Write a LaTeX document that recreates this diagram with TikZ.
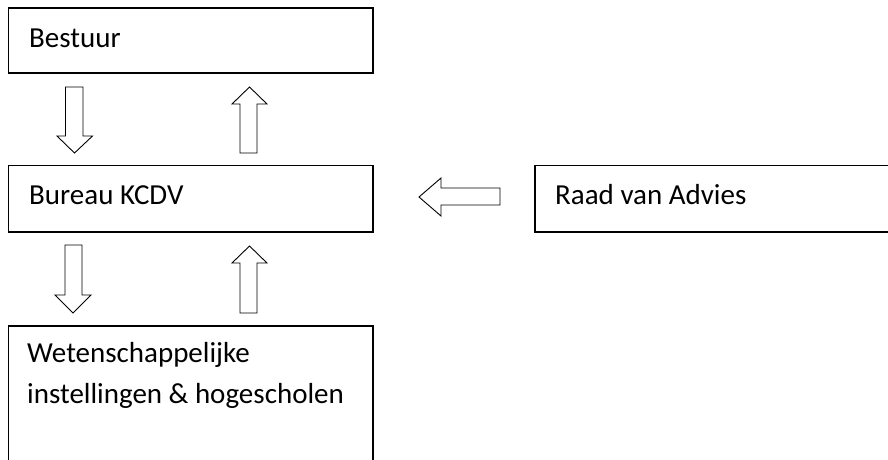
\documentclass[tikz,border=0pt]{standalone}
\usepackage{fontspec}
\setmainfont{Carlito}
\begin{document}
\begin{tikzpicture}[x=1pt,y=-1pt,
  box/.style={draw=black,line width=1.6pt,rectangle,inner sep=0pt,anchor=north west},
  lbl/.style={anchor=base west,inner sep=0pt,font=\fontsize{29}{41}\selectfont,align=left},
  blockarrow/.style={draw=black,line width=0.9pt,fill=white,line join=miter}]
\useasboundingbox (0,0) rectangle (888,459);
\clip (0,0) rectangle (888,459);
% boxes
\node[box,minimum width=364.5pt,minimum height=65pt] (bestuur) at (7.5,7) {};
\node[box,minimum width=364.5pt,minimum height=66.5pt] (bureau) at (7.5,164.5) {};
\node[box,minimum width=370pt,minimum height=66.5pt] (raad) at (534,164.5) {};
\node[box,minimum width=364.5pt,minimum height=160pt] (wet) at (7.5,325) {};
% labels
\node[lbl] (tb) at (29,47) {Bestuur};
\node[lbl] (tk) at (29,204) {Bureau KCDV};
\node[lbl] (tr) at (555,204) {Raad van Advies};
\node[lbl] (tw) at (27,403) {Wetenschappelijke\\instellingen \& hogescholen};
% block arrows
\draw[blockarrow] (65.5,87) -- (83,87) -- (83,136) -- (92.5,136) -- (74.5,153) -- (57,136) -- (65.5,136) -- cycle;
\draw[blockarrow] (240,153) -- (257,153) -- (257,104) -- (267,104) -- (249.5,87) -- (232,104) -- (240,104) -- cycle;
\draw[blockarrow] (65,245) -- (82,245) -- (82,295) -- (91,295) -- (73,313) -- (55,295) -- (65,295) -- cycle;
\draw[blockarrow] (240,313) -- (257,313) -- (257,263) -- (267,263) -- (249.5,246) -- (232,263) -- (240,263) -- cycle;
\draw[blockarrow] (500,188) -- (441,188) -- (441,178) -- (419,197) -- (441,216) -- (441,205) -- (500,205) -- cycle;
\end{tikzpicture}
\end{document}
